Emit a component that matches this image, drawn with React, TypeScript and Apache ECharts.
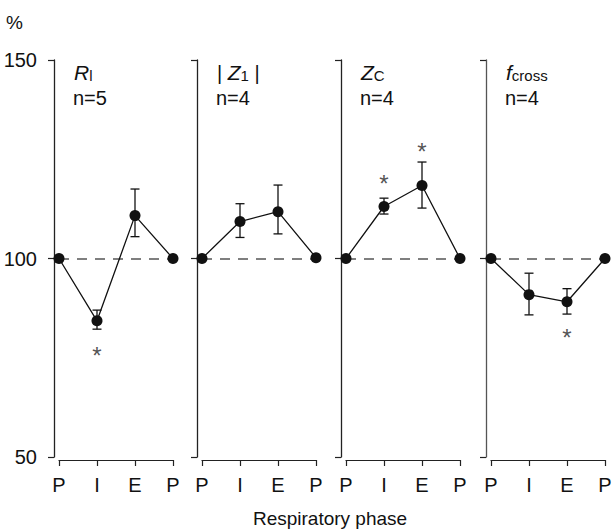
import React, { useEffect, useRef } from 'react';
import * as echarts from 'echarts';

// ---- data ----
const phases = ['P', 'I', 'E', 'P'];
const yTicks = [50, 100, 150];

const rlValues = [100, 84.3, 110.8, 100];
const z1Values = [100, 109.3, 111.8, 100.2];
const zcValues = [100, 113.1, 118.4, 100];
const fcrossValues = [100, 90.9, 89.1, 100];

// error bars [low, high] per phase (null = none)
const rlErrors = [null, [82.2, 87.0], [105.5, 117.5], null];
const z1Errors = [null, [105.3, 113.8], [106.2, 118.5], null];
const zcErrors = [null, [111.2, 115.2], [112.7, 124.3], null];
const fcrossErrors = [null, [85.8, 96.3], [86.0, 92.4], null];

// significance asterisks (y position per phase)
const rlStars = [null, 77, null, null];
const z1Stars = [null, null, null, null];
const zcStars = [null, 120.5, 128.5, null];
const fcrossStars = [null, null, 81.6, null];

const panelNs = [5, 4, 4, 4];
const panelValues = [rlValues, z1Values, zcValues, fcrossValues];
const panelErrors = [rlErrors, z1Errors, zcErrors, fcrossErrors];
const panelStars = [rlStars, z1Stars, zcStars, fcrossStars];
const panelTitles = [
  '{i|R}{s|l}',
  '{n|| }{i|Z}{s|1}{n| |}',
  '{i|Z}{s|C}',
  '{i|f}{s|cross}',
];
const axisLabel = 'Respiratory phase';
const unitLabel = '%';

// ---- layout ----
const FONT = "'Liberation Sans', Arial, Helvetica, sans-serif";
const axisXs = [54, 197, 341, 486];
const GRID_TOP = 60;
const GRID_H = 397;
const GRID_W = 114;
const INK = '#111';

function buildOption() {
  const grid: any[] = [];
  const xAxis: any[] = [];
  const yAxis: any[] = [];
  const series: any[] = [];
  const graphic: any[] = [];

  axisXs.forEach((ax, p) => {
    grid.push({ left: ax + 5, top: GRID_TOP, width: GRID_W, height: GRID_H, outerBoundsMode: 'none', containLabel: false });
    xAxis.push({
      type: 'value', gridIndex: p, min: 0, max: phases.length - 1, interval: 1, offset: 3,
      axisLine: { show: true, onZero: false, lineStyle: { color: '#222', width: 1.2 } },
      axisTick: { show: true, inside: false, length: 6, lineStyle: { color: '#222', width: 1.2 } },
      axisLabel: { show: true, margin: 15, fontSize: 20, color: INK, fontFamily: FONT, formatter: (v: number) => phases[Math.round(v)] ?? '' },
      splitLine: { show: false },
    });
    yAxis.push({
      type: 'value', gridIndex: p, min: yTicks[0], max: yTicks[yTicks.length - 1], interval: 50, offset: 5,
      axisLine: { show: true, onZero: false, lineStyle: { color: p === 3 ? '#555' : '#222', width: 1.3 } },
      axisTick: { show: true, inside: false, length: 6, lineStyle: { color: '#222', width: 1.2 } },
      axisLabel: { show: p === 0, margin: 17, fontSize: 20, color: INK, fontFamily: FONT },
      splitLine: { show: false },
    });

    const vals = panelValues[p];
    const errs = panelErrors[p];
    const stars = panelStars[p];

    series.push({
      type: 'custom', xAxisIndex: p, yAxisIndex: p, z: 2,
      data: errs.map((e, i) => (e ? [i, e[0], e[1]] : null)).filter(Boolean),
      encode: { x: 0, y: [1, 2] },
      renderItem: (params: any, api: any) => {
        const x = api.value(0);
        const lo = api.coord([x, api.value(1)]);
        const hi = api.coord([x, api.value(2)]);
        const w = 4.5;
        const st = { stroke: INK, lineWidth: 1.3 };
        return {
          type: 'group',
          children: [
            { type: 'line', shape: { x1: lo[0], y1: lo[1], x2: hi[0], y2: hi[1] }, style: st },
            { type: 'line', shape: { x1: lo[0] - w, y1: lo[1], x2: lo[0] + w, y2: lo[1] }, style: st },
            { type: 'line', shape: { x1: hi[0] - w, y1: hi[1], x2: hi[0] + w, y2: hi[1] }, style: st },
          ],
        };
      },
    });

    series.push({
      type: 'line', xAxisIndex: p, yAxisIndex: p, z: 3,
      data: vals.map((v, i) => [i, v]),
      symbol: 'circle', symbolSize: 11,
      itemStyle: { color: INK },
      lineStyle: { color: INK, width: 1.3 },
      markLine: {
        silent: true, symbol: 'none', label: { show: false }, z: 1,
        lineStyle: { type: [10, 8], color: '#555', width: 1.5 },
        data: [{ yAxis: 100 }],
      },
    });

    series.push({
      type: 'custom', xAxisIndex: p, yAxisIndex: p, z: 4,
      data: stars.map((s, i) => (s !== null ? [i, s] : null)).filter(Boolean),
      encode: { x: 0, y: 1 },
      renderItem: (params: any, api: any) => {
        const c = api.coord([api.value(0), api.value(1)]);
        return {
          type: 'text', x: c[0], y: c[1] + 6,
          style: { text: '*', fontSize: 24, fontFamily: FONT, fill: '#555', align: 'center', verticalAlign: 'middle' },
        };
      },
    });

    graphic.push({
      type: 'text', left: ax + 20, top: 62,
      style: {
        text: panelTitles[p], fill: INK, fontFamily: FONT,
        rich: {
          i: { fontStyle: 'italic', fontSize: 21, lineHeight: 21, fontFamily: FONT, fill: INK, verticalAlign: 'bottom' },
          s: { fontSize: 15, lineHeight: 15, fontFamily: FONT, fill: INK, verticalAlign: 'bottom' },
          n: { fontSize: 20, lineHeight: 20, fontFamily: FONT, fill: INK, verticalAlign: 'bottom' },
        },
      },
    });
    graphic.push({
      type: 'text', left: ax + 19, top: 88,
      style: { text: 'n=' + panelNs[p], fontSize: 20, fontFamily: FONT, fill: INK },
    });
  });

  graphic.push({ type: 'text', left: 6, top: 13, style: { text: unitLabel, fontSize: 19, fontFamily: FONT, fill: INK } });
  graphic.push({
    type: 'text', x: 330, y: 518,
    style: { text: axisLabel, fontSize: 19, fontFamily: FONT, fill: INK, align: 'center', verticalAlign: 'middle' },
  });

  return { animation: false, backgroundColor: '#fff', grid, xAxis, yAxis, series, graphic };
}

export default function App() {
  const ref = useRef<HTMLDivElement>(null);
  useEffect(() => {
    const chart = echarts.init(ref.current!, null, { renderer: 'svg' });
    chart.setOption(buildOption() as any);
    return () => chart.dispose();
  }, []);
  return <div ref={ref} style={{ position: 'fixed', left: 0, top: 0, width: 613, height: 529 }} />;
}
